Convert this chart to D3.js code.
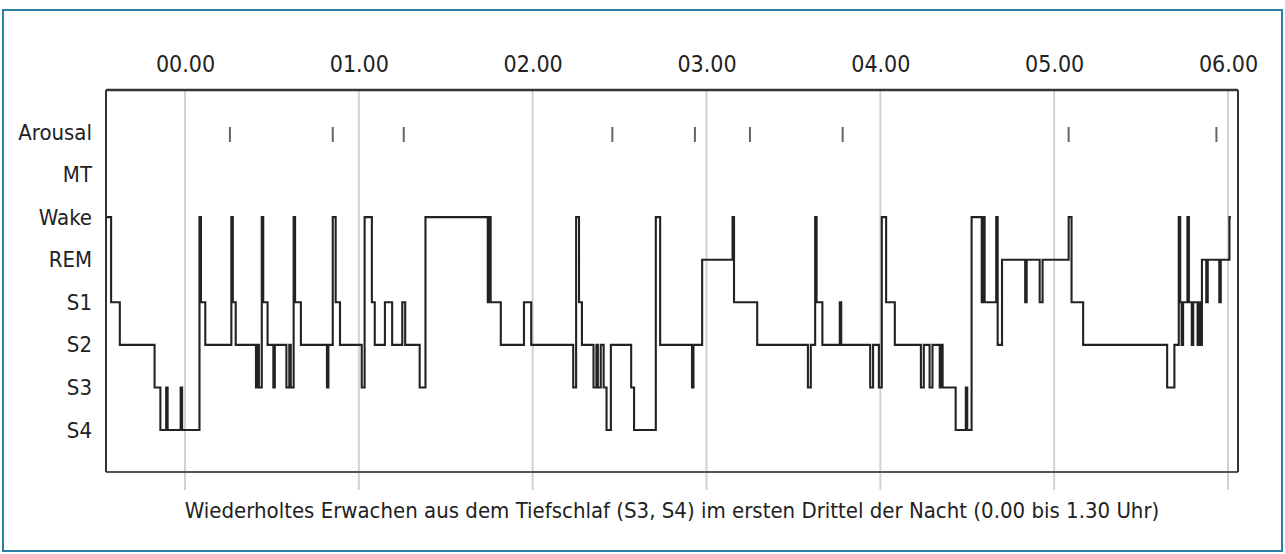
<!DOCTYPE html>
<html>
<head>
<meta charset="utf-8">
<script src="https://cdn.jsdelivr.net/npm/d3@7"></script>
<style>
  html, body { margin: 0; padding: 0; background: #fff; }
  svg { display: block; }
  text { font-family: "Liberation Sans Narrow", "DejaVu Sans Condensed", "DejaVu Sans", sans-serif; font-stretch: condensed; fill: #222; }
</style>
</head>
<body>
<svg id="chart" width="1285" height="554"></svg>
<script>
// y categories, top to bottom
let stageLevels = ['Arousal', 'MT', 'Wake', 'REM', 'S1', 'S2', 'S3', 'S4'];

// hour ticks (minutes after midnight) and their labels
let hourMinutes = [0, 60, 120, 180, 240, 300, 360];
let hourLabels = ['00.00', '01.00', '02.00', '03.00', '04.00', '05.00', '06.00'];

// hypnogram: start of each scored period (minutes after 00.00) and its stage
let epochStart = [
  -27, -25.5, -22.5, -10.5, -8.5, -6.5, -6, -1.5, -1, 5, 5.5, 7,
  16, 16.5, 17.5, 24.5, 25, 25.5, 26.5, 27, 28.5, 30.5, 31, 35, 36, 36.5, 37.5, 38, 40,
  49, 49.5, 51, 52, 53.5, 61, 62, 64.5, 65.5, 69, 71.5, 75, 76, 81, 83,
  104.5, 105, 105.5, 109, 117, 119.5, 134, 135, 136, 137,
  141, 142, 142.5, 143.5, 144.5, 145.5, 147, 154, 155, 162.5, 164, 175, 175.5, 178.5,
  189, 189.5, 197.5, 215, 216, 217.5, 218, 220, 226, 226.5, 236.5, 237.5, 239.5,
  240.5, 242, 245, 254, 255, 257, 258, 260.5, 261, 261.5, 266, 269.5, 270, 271.5,
  275, 275.5, 276, 280, 280.5, 282, 290, 290.5, 295, 296, 305, 306, 310,
  339, 341.5, 343, 343.5, 344, 344.5, 346, 346.5, 347.5, 348, 349.5, 350, 350.5,
  351, 352.5, 353, 357, 357.5, 360.5
];
let epochStage = [
  'Wake', 'S1', 'S2', 'S3', 'S4', 'S3', 'S4', 'S3', 'S4', 'Wake', 'S1', 'S2',
  'Wake', 'S1', 'S2', 'S3', 'S2', 'S3', 'Wake', 'S1', 'S2', 'S3', 'S2', 'S3', 'S2', 'S3', 'Wake', 'S1', 'S2',
  'S3', 'S2', 'Wake', 'S1', 'S2', 'S3', 'Wake', 'S1', 'S2', 'S1', 'S2', 'S1', 'S2', 'S3', 'Wake',
  'S1', 'Wake', 'S1', 'S2', 'S1', 'S2', 'S3', 'Wake', 'S1', 'S2',
  'S3', 'S2', 'S3', 'S2', 'S3', 'S4', 'S2', 'S3', 'S4', 'Wake', 'S2', 'S3', 'S2', 'REM',
  'Wake', 'S1', 'S2', 'S3', 'S2', 'Wake', 'S1', 'S2', 'S1', 'S2', 'S3', 'S2', 'S3',
  'Wake', 'S1', 'S2', 'S3', 'S2', 'S3', 'S2', 'S3', 'S2', 'S3', 'S4', 'S3', 'S4', 'Wake',
  'S1', 'Wake', 'S1', 'Wake', 'S2', 'REM', 'S1', 'REM', 'S1', 'REM', 'Wake', 'S1', 'S2',
  'S3', 'S2', 'Wake', 'S1', 'S2', 'S1', 'Wake', 'S1', 'S2', 'S1', 'S2', 'S1', 'S2',
  'REM', 'S1', 'REM', 'S1', 'REM', 'Wake'
];
let recordingEnd = 361;

// arousal marks (minutes after 00.00)
let arousalTimes = [15.5, 51, 75.5, 147.5, 176, 195, 227, 305, 356];

let caption = 'Wiederholtes Erwachen aus dem Tiefschlaf (S3, S4) im ersten Drittel der Nacht (0.00 bis 1.30 Uhr)';

let svg = d3.select('#chart');

// outer frame
svg.append('rect')
  .attr('x', 3).attr('y', 10)
  .attr('width', 1279).attr('height', 541)
  .attr('fill', 'none')
  .attr('stroke', '#2a7fa3')
  .attr('stroke-width', 2);

let x = d3.scaleLinear().domain([0, 360]).range([185, 1228]);
let y = d3.scalePoint().domain(stageLevels).range([132, 430]);

let plotLeft = 106, plotRight = 1238, plotTop = 90, plotBottom = 472;

// hour grid lines
svg.append('g').selectAll('line')
  .data(hourMinutes)
  .enter().append('line')
  .attr('x1', d => x(d)).attr('x2', d => x(d))
  .attr('y1', plotTop).attr('y2', 490)
  .attr('stroke', '#d2d2d2')
  .attr('stroke-width', 2);

// plot frame
let frame = svg.append('g').attr('fill', 'none').attr('stroke', '#333');
frame.append('line').attr('x1', plotLeft).attr('x2', plotRight).attr('y1', plotTop).attr('y2', plotTop).attr('stroke-width', 2.5);
frame.append('line').attr('x1', plotLeft).attr('x2', plotRight).attr('y1', plotBottom).attr('y2', plotBottom).attr('stroke-width', 2).attr('stroke', '#555');
frame.append('line').attr('x1', plotLeft).attr('x2', plotLeft).attr('y1', plotTop).attr('y2', plotBottom).attr('stroke-width', 2);
frame.append('line').attr('x1', plotRight).attr('x2', plotRight).attr('y1', plotTop).attr('y2', plotBottom).attr('stroke-width', 2);

// top time axis
let xAxis = d3.axisTop(x)
  .tickValues(hourMinutes)
  .tickFormat((d, i) => hourLabels[i])
  .tickSize(0)
  .tickPadding(0);
let gx = svg.append('g').attr('transform', 'translate(0,72)').call(xAxis);
gx.select('.domain').remove();
gx.selectAll('text')
  .attr('font-size', 23)
  .attr('font-family', null)
  .attr('fill', '#222');

// left stage axis
let yAxis = d3.axisLeft(y).tickSize(0).tickPadding(0);
let gy = svg.append('g').attr('transform', 'translate(92,0)').call(yAxis);
gy.select('.domain').remove();
gy.selectAll('text')
  .attr('font-size', 22)
  .attr('font-family', null)
  .attr('fill', '#222');

// arousal marks
svg.append('g').selectAll('line')
  .data(arousalTimes)
  .enter().append('line')
  .attr('x1', d => x(d)).attr('x2', d => x(d))
  .attr('y1', y('Arousal') - 5).attr('y2', y('Arousal') + 10)
  .attr('stroke', '#666')
  .attr('stroke-width', 2);

// hypnogram step line
let points = epochStart.map((t, i) => [t, epochStage[i]]);
points.push([recordingEnd, epochStage[epochStage.length - 1]]);

let line = d3.line()
  .x(d => x(d[0]))
  .y(d => y(d[1]))
  .curve(d3.curveStepAfter);

svg.append('path')
  .datum(points)
  .attr('d', line)
  .attr('fill', 'none')
  .attr('stroke', '#222')
  .attr('stroke-width', 2.1);

// caption
svg.append('text')
  .attr('x', 672).attr('y', 518)
  .attr('text-anchor', 'middle')
  .attr('font-size', 22)
  .text(caption);
</script>
</body>
</html>
